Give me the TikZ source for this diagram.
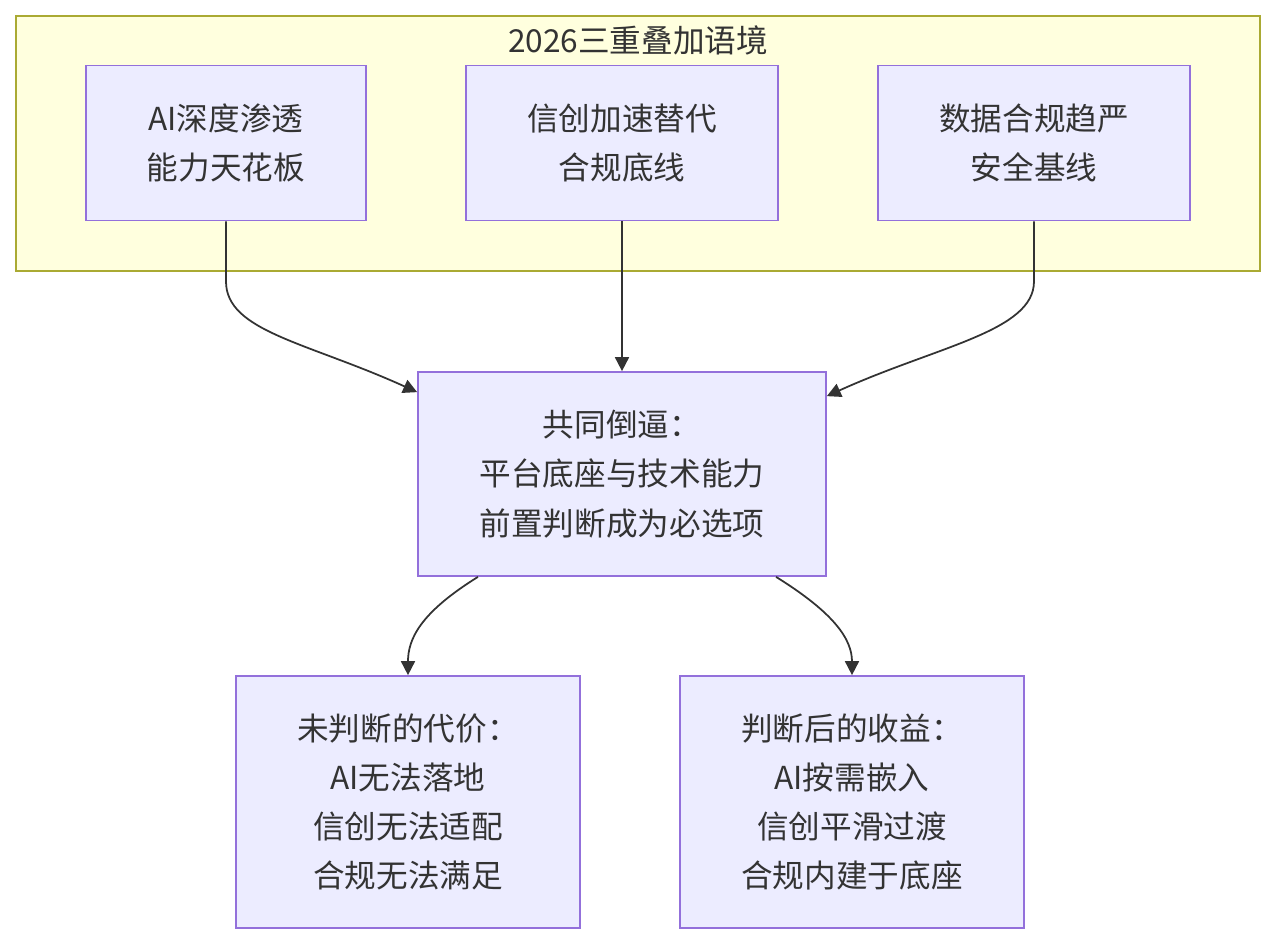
\documentclass[tikz,border=0pt]{standalone}
\usepackage{fontspec}
\setmainfont{Noto Sans CJK SC}
\usetikzlibrary{calc}
\usetikzlibrary{positioning}
\usetikzlibrary{arrows.meta}

\definecolor{boxfill}{HTML}{ECECFF}
\definecolor{boxline}{HTML}{9370DB}
\definecolor{groupfill}{HTML}{FFFFDE}
\definecolor{groupline}{HTML}{AAAA33}
\definecolor{ink}{HTML}{333333}

\tikzset{
  box/.style={draw=boxline,fill=boxfill,line width=1pt,align=center,text=ink,
    inner sep=0pt,font=\fontsize{18}{28}\selectfont},
  link/.style={draw=ink,line width=1pt,-{Triangle[length=0.28cm,width=0.28cm]}}
}

\begin{document}
\begin{tikzpicture}[x=0.02cm,y=-0.02cm]
        \useasboundingbox (0,0) rectangle (1276,944);

        % context group
        \draw[draw=groupline,fill=groupfill,line width=1pt] (16,16) rectangle (1260,271);
        \node[text=ink,font=\fontsize{18}{28}\selectfont] (title) at (638,40) {2026三重叠加语境};

        \node[box,minimum width=5.6cm,minimum height=3.1cm] (ai) at (226,143) {AI深度渗透\\能力天花板};
        \node[box,minimum width=6.24cm,minimum height=3.1cm] (xc) at (622,143) {信创加速替代\\合规底线};
        \node[box,minimum width=6.24cm,minimum height=3.1cm] (data) at (1034,143) {数据合规趋严\\安全基线};

        \node[box,minimum width=8.16cm,minimum height=4.08cm] (base) at (622,474)
          {共同倒逼：\\平台底座与技术能力\\前置判断成为必选项};

        \node[box,minimum width=6.88cm,minimum height=5.04cm] (cost) at (408,802)
          {未判断的代价：\\AI无法落地\\信创无法适配\\合规无法满足};
        \node[box,minimum width=6.88cm,minimum height=5.04cm] (gain) at (852,802)
          {判断后的收益：\\AI按需嵌入\\信创平滑过渡\\合规内建于底座};

        \coordinate (aiturn) at ($(ai.south)+(0,60)$);
        \coordinate (dataturn) at ($(data.south)+(0,60)$);
        \coordinate (basel) at ($(base.north west)+(0,21)$);
        \coordinate (baser) at ($(base.north east)+(0,25)$);
        \coordinate (costout) at ($(base.south)+(-144,0)$);
        \coordinate (gainout) at ($(base.south)+(154,0)$);

        \draw[link] (ai.south) -- (aiturn)
          .. controls ($(aiturn)+(0,50)$) and ($(basel)+(-110,-50)$) .. (basel);
        \draw[link] (xc.south) -- (base.north);
        \draw[link] (data.south) -- (dataturn)
          .. controls ($(dataturn)+(0,50)$) and ($(baser)+(110,-50)$) .. (baser);

        \draw[link] (costout) .. controls ($(costout)+(-58,36)$) and ($(cost.north)+(0,-36)$) .. (cost.north);
        \draw[link] (gainout) .. controls ($(gainout)+(58,36)$) and ($(gain.north)+(0,-36)$) .. (gain.north);
    \end{tikzpicture}
\end{document}
